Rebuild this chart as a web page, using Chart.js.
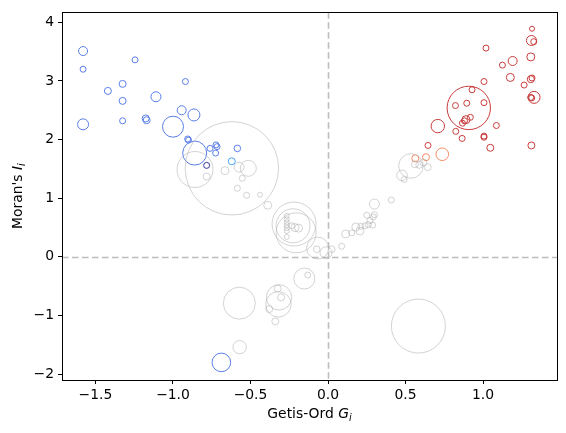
<!DOCTYPE html>
<html>
<head>
<meta charset="utf-8">
<script src="https://cdn.jsdelivr.net/npm/chart.js@4.4.1/dist/chart.umd.min.js"></script>
<style>
html,body{margin:0;padding:0;background:#fff;}
#wrap{width:566px;height:433px;}
</style>
</head>
<body>
<div id="wrap"><canvas id="c" width="566" height="433"></canvas></div>
<script>
// ---- data (Getis-Ord Gi, Moran's Ii, marker magnitude) ----
const xTicks = [-1.5, -1.0, -0.5, 0.0, 0.5, 1.0];
const yTicks = [-2, -1, 0, 1, 2, 3, 4];

const blueGi = [-1.58,-1.58,-1.245,-1.325,-1.42,-1.325,-0.92,-1.11,-1.58,-1.325,-1.176,-1.17,-1.00,-0.944,-0.865,-0.905,-0.90,-0.86,-0.761,-0.723,-0.716,-0.725,-0.585,-0.688];
const blueIi = [3.51,3.20,3.36,2.95,2.83,2.66,2.99,2.73,2.26,2.32,2.36,2.33,2.22,2.50,2.42,2.01,1.99,1.77,1.85,1.91,1.88,1.77,1.85,-1.80];
const blueSize = [4.5,3,3,3.5,3.5,3.5,3,5,5.5,3,3.5,3.5,10.5,4.5,6,3,3,12,3,3,3,3,3.3,9.3];

const navyGi = [-0.783];
const navyIi = [1.56];
const navySize = [3];

const skyGi = [-0.621];
const skyIi = [1.63];
const skySize = [3.5];

const redGi = [1.316,1.312,1.327,1.019,1.191,1.125,1.308,1.176,1.308,1.316,1.265,1.006,1.329,1.308,1.314,0.908,0.929,0.822,0.895,1.006,0.918,0.89,0.88,0.867,1.086,0.708,0.824,0.865,1.006,1.006,1.047,1.312,0.645];
const redIi = [3.89,3.69,3.67,3.56,3.34,3.27,3.41,3.06,3.03,3.05,2.93,2.99,2.72,2.72,2.71,2.54,2.85,2.58,2.62,2.63,2.38,2.34,2.32,2.28,2.24,2.23,2.14,2.02,2.06,2.04,1.86,1.90,1.90];
const redSize = [2.5,5,3,3,4.5,3,4,4,3.5,3,3,3,6,3,3,21.7,3,3,3,3,3,4,3,3,3,6.7,3,3,3,3,3.5,3.5,3];

const orangeGi = [0.563,0.632,0.737];
const orangeIi = [1.68,1.70,1.75];
const orangeSize = [3.5,3.5,6.3];

const grayGi = [-0.62,-0.858,-0.783,-0.665,-0.574,-0.514,-0.553,-0.585,-0.525,-0.439,-0.389,
  -0.219,-0.226,-0.206,-0.266,-0.266,-0.266,-0.266,-0.266,-0.266,-0.266,-0.213,-0.19,-0.234,
  -0.067,-0.073,-0.013,0.024,0.088,0.114,0.153,0.206,0.179,0.211,0.239,0.288,0.26,0.271,0.292,0.25,0.299,
  0.299,0.408,0.477,0.492,0.535,0.561,0.589,0.615,0.643,
  -0.572,-0.316,-0.32,-0.325,-0.303,-0.379,-0.34,-0.153,-0.131,-0.57,0.583];
const grayIi = [1.51,1.49,1.37,1.47,1.53,1.51,1.34,1.17,1.05,1.06,0.88,
  0.56,0.53,0.41,0.70,0.64,0.59,0.54,0.49,0.44,0.34,0.50,0.49,0.53,
  0.15,0.13,0.07,0.13,0.18,0.39,0.41,0.44,0.51,0.52,0.53,0.54,0.55,0.62,0.68,0.71,0.72,
  0.90,0.97,1.39,1.32,1.55,1.58,1.57,1.61,1.53,
  -0.79,-0.69,-0.81,-0.54,-0.69,-0.89,-1.10,-0.37,-0.31,-1.54,-1.18];
const graySize = [46.7,18,3.5,4,5,8,3,3,3,2.5,4,
  22,17,20,2.5,2.5,2.5,2.5,2.5,2.5,2.5,4,4,3,
  11,3.3,6,3.3,3,4,3,4,4,3,3,3,3,3,3,3,3,
  5,3,5.3,3,12.3,3.5,3.5,3.5,3.5,
  16,12.7,12.7,3.5,3.5,3.5,3.5,10.5,3,6.7,27];

// ---- build ----
function pts(xs, ys) { return xs.map((x, i) => ({ x: x, y: ys[i] })); }
function ds(xs, ys, sizes, color) {
  return {
    data: pts(xs, ys),
    pointRadius: ctx => sizes[ctx.dataIndex],
    pointHoverRadius: ctx => sizes[ctx.dataIndex],
    pointBorderColor: color,
    pointBackgroundColor: 'rgba(0,0,0,0)',
    pointBorderWidth: 1,
    showLine: false
  };
}
const FONT = 'DejaVu Sans';
const FS = 13.9;
const fmtMinus = s => s.replace('-', '\u2212');

const framePlugin = {
  id: 'frame',
  beforeDatasetsDraw(chart) {
    const { ctx, chartArea: a, scales } = chart;
    const x0 = Math.round(scales.x.getPixelForValue(0)) + 0.5;
    const y0 = Math.round(scales.y.getPixelForValue(0)) + 0.5;
    ctx.save();
    ctx.strokeStyle = '#bdbdbd';
    ctx.lineWidth = 1.6;
    ctx.setLineDash([6.5, 3.5]);
    ctx.beginPath();
    ctx.moveTo(x0, a.top); ctx.lineTo(x0, a.bottom);
    ctx.moveTo(a.left, y0); ctx.lineTo(a.right, y0);
    ctx.stroke();
    ctx.restore();
  },
  afterDraw(chart) {
    const { ctx, chartArea: a } = chart;
    ctx.save();
    ctx.strokeStyle = '#000';
    ctx.lineWidth = 1;
    ctx.setLineDash([]);
    ctx.strokeRect(Math.round(a.left) + 0.5, Math.round(a.top) + 0.5,
      Math.round(a.right - a.left), Math.round(a.bottom - a.top));
    function drawParts(parts, cx, cy) {
      let widths = parts.map(p => {
        ctx.font = (p.it ? 'italic ' : '') + (p.sub ? FS * 0.7 : FS) + 'px "' + FONT + '"';
        return ctx.measureText(p.t).width;
      });
      const total = widths.reduce((s, w) => s + w, 0);
      let x = cx - total / 2;
      ctx.fillStyle = '#000';
      ctx.textBaseline = 'alphabetic';
      ctx.textAlign = 'left';
      parts.forEach((p, i) => {
        ctx.font = (p.it ? 'italic ' : '') + (p.sub ? FS * 0.7 : FS) + 'px "' + FONT + '"';
        ctx.fillText(p.t, x, cy + (p.sub ? 3 : 0));
        x += widths[i];
      });
    }
    const cxX = (a.left + a.right) / 2;
    drawParts([{ t: 'Getis-Ord ' }, { t: 'G', it: true }, { t: 'i', it: true, sub: true }], cxX, 418);
    ctx.save();
    ctx.translate(22, (a.top + a.bottom) / 2);
    ctx.rotate(-Math.PI / 2);
    drawParts([{ t: "Moran's " }, { t: 'I', it: true }, { t: 'i', it: true, sub: true }], 0, 0);
    ctx.restore();
    ctx.restore();
  }
};

new Chart(document.getElementById('c'), {
  type: 'scatter',
  data: {
    datasets: [
      ds(grayGi, grayIi, graySize, 'rgba(175,175,175,0.55)'),
      ds(blueGi, blueIi, blueSize, '#5a7ee8'),
      ds(navyGi, navyIi, navySize, '#34349c'),
      ds(skyGi, skyIi, skySize, '#45a4ff'),
      ds(orangeGi, orangeIi, orangeSize, '#f58c64'),
      ds(redGi, redIi, redSize, '#c83c3c')
    ]
  },
  options: {
    responsive: false,
    animation: false,
    devicePixelRatio: 1,
    layout: { autoPadding: false, padding: { top: 10, right: 9, left: 0, bottom: 0 } },
    plugins: { legend: { display: false }, tooltip: { enabled: false } },
    scales: {
      x: {
        type: 'linear', min: -1.716, max: 1.477,
        afterBuildTicks: s => { s.ticks = xTicks.map(v => ({ value: v })); },
        afterFit: s => { s.height = 53; },
        grid: { display: true, drawOnChartArea: false, drawTicks: true, tickLength: 4, tickColor: '#000', tickWidth: 1 },
        border: { display: false },
        ticks: { color: '#000', font: { family: FONT, size: FS }, padding: 3, maxRotation: 0,
          callback: v => fmtMinus(Number(v).toFixed(1)) }
      },
      y: {
        type: 'linear', min: -2.1, max: 4.17,
        afterBuildTicks: s => { s.ticks = yTicks.map(v => ({ value: v })); },
        afterFit: s => { s.width = 62; },
        grid: { display: true, drawOnChartArea: false, drawTicks: true, tickLength: 4, tickColor: '#000', tickWidth: 1 },
        border: { display: false },
        ticks: { color: '#000', font: { family: FONT, size: FS }, padding: 4,
          callback: v => fmtMinus(String(Math.round(v))) }
      }
    }
  },
  plugins: [framePlugin]
});
</script>
</body>
</html>
